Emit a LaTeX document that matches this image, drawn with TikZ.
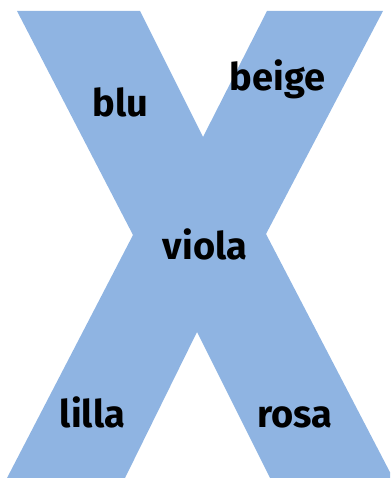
\documentclass[tikz,border=0pt]{standalone}
\usepackage{fontspec}
\setmainfont{Fira Sans}
\definecolor{xblue}{RGB}{143,180,226}
\tikzset{
  lbl/.style={anchor=base, inner sep=0pt, font=\bfseries\fontsize{38}{38}\selectfont, text=black}
}
\begin{document}
\begin{tikzpicture}[x=1pt,y=-1pt]
\useasboundingbox (0,0) rectangle (390,478);
\clip (0,0) rectangle (390,478);
\fill[xblue] (17,11) -- (140,11) -- (203,137) -- (267,11) -- (383,11) -- (266,234)
  -- (393,478) -- (270,478) -- (197,332) -- (125,478) -- (7,478) -- (133,235) -- cycle;
\node[lbl] (blu) at (120.5,117) {blu};
\node[lbl] (beige) at (277.5,91) {beige};
\node[lbl] (viola) at (205,259) {viola};
\node[lbl] (lilla) at (92.5,427) {lilla};
\node[lbl] (rosa) at (295,427) {rosa};
\end{tikzpicture}
\end{document}
